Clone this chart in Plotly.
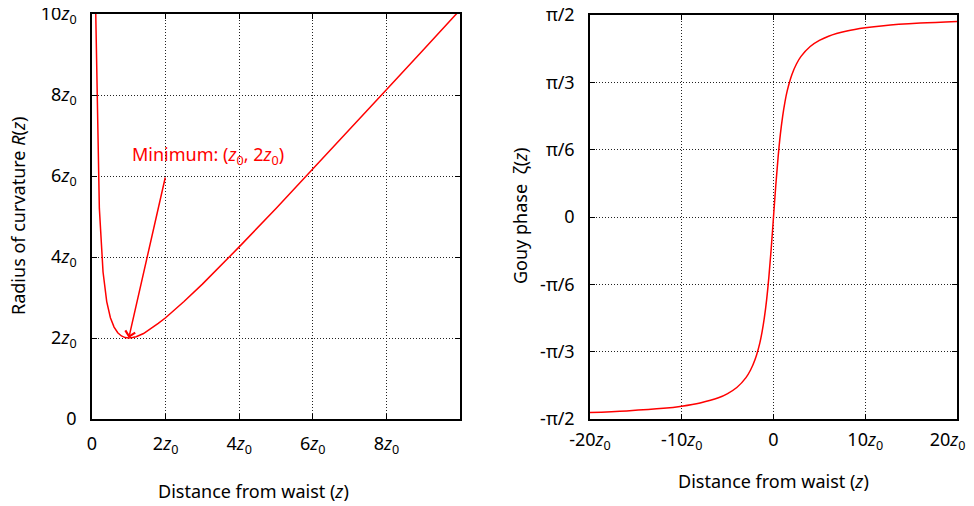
import plotly.graph_objects as go

# Left panel: radius of curvature R(z), in units of z0
z_left = [0.1, 0.2, 0.3, 0.4, 0.5, 0.6, 0.7, 0.8, 0.9, 1.0, 1.1, 1.2, 1.4, 1.6, 1.8, 2.0,
          2.5, 3.0, 3.5, 4.0, 5.0, 6.0, 7.0, 8.0, 9.0, 10.0]
r_left = [10.1, 5.2, 3.63, 2.9, 2.5, 2.27, 2.13, 2.05, 2.01, 2.0, 2.01, 2.03, 2.11, 2.23, 2.36, 2.5,
          2.9, 3.33, 3.79, 4.25, 5.2, 6.17, 7.14, 8.13, 9.11, 10.1]

# Right panel: Gouy phase zeta(z) (radians), z in units of z0
z_right = [-20, -16, -12, -10, -8, -6, -5, -4, -3, -2.5, -2, -1.5, -1.25, -1, -0.75, -0.5, -0.25, 0,
           0.25, 0.5, 0.75, 1, 1.25, 1.5, 2, 2.5, 3, 4, 5, 6, 8, 10, 12, 16, 20]
g_right = [-1.521, -1.508, -1.488, -1.471, -1.446, -1.406, -1.373, -1.326, -1.249, -1.190, -1.107,
           -0.983, -0.896, -0.785, -0.644, -0.464, -0.245, 0.0,
           0.245, 0.464, 0.644, 0.785, 0.896, 0.983, 1.107, 1.190, 1.249, 1.326, 1.373, 1.406,
           1.446, 1.471, 1.488, 1.508, 1.521]

Z = "<i>z</i><sub>0</sub>"
left_xtick_vals = [0, 2, 4, 6, 8]
left_xtick_text = ["0", "2" + Z, "4" + Z, "6" + Z, "8" + Z]
left_ytick_vals = [0, 2, 4, 6, 8, 10]
left_ytick_text = ["0", "2" + Z, "4" + Z, "6" + Z, "8" + Z, "10" + Z]
right_xtick_vals = [-20, -10, 0, 10, 20]
right_xtick_text = ["-20" + Z, "-10" + Z, "0", "10" + Z, "20" + Z + "&nbsp;&nbsp;&nbsp;&nbsp;"]
PI = 3.141592653589793
right_ytick_vals = [-PI / 2, -PI / 3, -PI / 6, 0, PI / 6, PI / 3, PI / 2]
right_ytick_text = ["-π/2", "-π/3", "-π/6", "0", "π/6", "π/3", "π/2"]

FONT = "Noto Sans"
FS = 18
OFF = 8  # page body margin
W, H = 974 - OFF, 506 - OFF


def px_x(sx):
    return (sx - OFF) / W


def px_y(sy):
    return 1 - (sy - OFF) / H


fig = go.Figure()
fig.add_trace(go.Scatter(x=z_left, y=r_left, mode="lines", line=dict(color="#ff0000", width=1.5),
                         xaxis="x", yaxis="y", showlegend=False))
fig.add_trace(go.Scatter(x=z_right, y=g_right, mode="lines",
                         line=dict(color="#ff0000", width=1.5, shape="spline"),
                         xaxis="x2", yaxis="y2", showlegend=False))

axis_common = dict(showline=True, linecolor="black", linewidth=1.5, mirror="ticks",
                   ticks="inside", ticklen=5, tickcolor="black",
                   showgrid=True, gridcolor="#222", griddash="1px,2px", gridwidth=1,
                   zeroline=False, automargin=False, ticklabeloverflow="allow",
                   tickfont=dict(family=FONT, size=FS, color="black"))

fig.update_layout(
    width=W, height=H,
    margin=dict(l=0, r=0, t=0, b=0),
    paper_bgcolor="white", plot_bgcolor="white",
    font=dict(family=FONT, size=FS, color="black"),
    xaxis=dict(domain=[px_x(92), px_x(460)], range=[0, 10], tickvals=left_xtick_vals,
               ticktext=left_xtick_text, anchor="y", ticklabelstandoff=8, **axis_common),
    yaxis=dict(domain=[px_y(419), px_y(14)], range=[0, 10], tickvals=left_ytick_vals,
               ticktext=left_ytick_text, anchor="x", ticklabelstandoff=10, **axis_common),
    xaxis2=dict(domain=[px_x(590), px_x(957)], range=[-20, 20], tickvals=right_xtick_vals,
                ticktext=right_xtick_text, anchor="y2", ticklabelstandoff=4, **axis_common),
    yaxis2=dict(domain=[px_y(419), px_y(15)], range=[-PI / 2, PI / 2], tickvals=right_ytick_vals,
                ticktext=right_ytick_text, anchor="x2", ticklabelstandoff=10, **axis_common),
)

ann = []
# axis titles
ann.append(dict(text="Distance from waist (<i>z</i>)", x=px_x(253), y=px_y(491), xref="paper", yref="paper",
                showarrow=False, xanchor="center", yanchor="middle", font=dict(size=FS)))
ann.append(dict(text="Distance from waist (<i>z</i>)", x=px_x(773), y=px_y(481), xref="paper", yref="paper",
                showarrow=False, xanchor="center", yanchor="middle", font=dict(size=FS)))
ann.append(dict(text="Radius of curvature <i>R</i>(<i>z</i>)", x=px_x(18), y=px_y(216), xref="paper",
                yref="paper", showarrow=False, xanchor="center", yanchor="middle", textangle=-90,
                font=dict(size=FS)))
ann.append(dict(text="Gouy phase  ζ(<i>z</i>)", x=px_x(520), y=px_y(216), xref="paper", yref="paper",
                showarrow=False, xanchor="center", yanchor="middle", textangle=-90, font=dict(size=FS)))
# minimum label and arrow
ann.append(dict(text="Minimum: (" + Z + ", 2" + Z + ")", x=1.03, y=6.5, xref="x", yref="y",
                showarrow=False, xanchor="left", yanchor="middle", font=dict(size=FS, color="#ff0000")))
ann.append(dict(text="", x=1, y=2, ax=2, ay=6, xref="x", yref="y", axref="x", ayref="y",
                showarrow=True, arrowhead=4, arrowsize=1.3, arrowwidth=1.5, arrowcolor="#ff0000", standoff=0))
fig.update_layout(annotations=ann)

fig.write_html("out.html")
